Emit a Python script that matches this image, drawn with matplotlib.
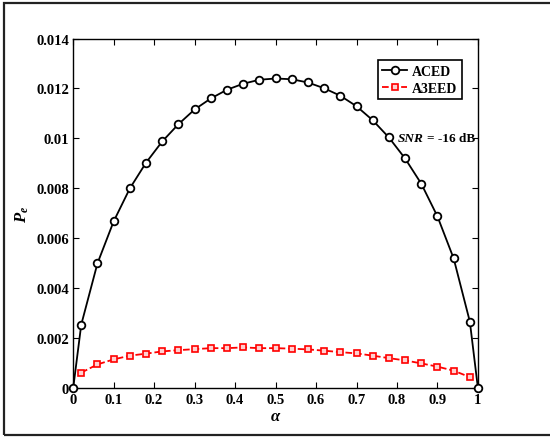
import matplotlib
matplotlib.use("Agg")
import matplotlib.pyplot as plt
from matplotlib.patches import Rectangle

# alpha grid
alpha_aced = [0.0, 0.02, 0.06, 0.10, 0.14, 0.18, 0.22, 0.26, 0.30, 0.34, 0.38,
              0.42, 0.46, 0.50, 0.54, 0.58, 0.62, 0.66, 0.70, 0.74, 0.78, 0.82,
              0.86, 0.90, 0.94, 0.98, 1.0]
pe_aced = [0.0, 0.00255, 0.0050, 0.00668, 0.0080, 0.00903, 0.00988, 0.01057,
           0.01116, 0.0116, 0.01195, 0.01219, 0.01235, 0.0124, 0.01237,
           0.01224, 0.01201, 0.01171, 0.01129, 0.01073, 0.01004, 0.0092,
           0.00819, 0.00688, 0.0052, 0.00267, 0.0]

alpha_a3eed = alpha_aced[1:-1]
pe_a3eed = [0.00063, 0.00096, 0.00116, 0.00131, 0.00139, 0.00148, 0.00153,
            0.00157, 0.00161, 0.00161, 0.00164, 0.00161, 0.00161, 0.00159,
            0.00156, 0.00151, 0.00145, 0.0014, 0.00131, 0.00121, 0.00112,
            0.0010, 0.00087, 0.00071, 0.00045]

xticks = [0, 0.1, 0.2, 0.3, 0.4, 0.5, 0.6, 0.7, 0.8, 0.9, 1]
xticklabels = ["0", "0.1", "0.2", "0.3", "0.4", "0.5", "0.6", "0.7", "0.8", "0.9", "1"]
yticks = [0, 0.002, 0.004, 0.006, 0.008, 0.01, 0.012, 0.014]
yticklabels = ["0", "0.002", "0.004", "0.006", "0.008", "0.01", "0.012", "0.014"]

plt.rcParams["font.family"] = ["Liberation Serif", "DejaVu Serif"]
plt.rcParams["font.weight"] = "bold"
plt.rcParams["mathtext.fontset"] = "custom"
plt.rcParams["mathtext.it"] = "Liberation Serif:italic:bold"
plt.rcParams["mathtext.rm"] = "Liberation Serif:bold"

fig = plt.figure(figsize=(5.5, 4.39), dpi=100)
ax = fig.add_axes([0.133, 0.113, 0.736, 0.797])

# outer figure frame
fig.patches.append(Rectangle((4 / 550, 3 / 439), 1.1, 1 - 7 / 439,
                             transform=fig.transFigure, fill=False,
                             edgecolor="#222", lw=1.6, clip_on=False))

ax.plot(alpha_aced, pe_aced, "-o", color="black", lw=1.3, ms=5.5,
        mfc="white", mec="black", mew=1.3, label="ACED", zorder=3,
        clip_on=False)
ax.plot(alpha_a3eed, pe_a3eed, "--s", color="red", lw=1.3, ms=4,
        mfc="#ffd0d0", mec="red", mew=1.2, label="A3EED", zorder=2)

ax.set_xlim(0, 1)
ax.set_ylim(0, 0.014)
ax.set_xticks(xticks)
ax.set_xticklabels(xticklabels)
ax.set_yticks(yticks)
ax.set_yticklabels(yticklabels)
ax.tick_params(direction="in", top=True, right=True, length=4, width=0.8,
               labelsize=10.5, pad=3)
for lab in ax.get_xticklabels() + ax.get_yticklabels():
    lab.set_fontweight("bold")
for sp in ax.spines.values():
    sp.set_linewidth(1.0)

ax.set_xlabel(r"$\alpha$", fontsize=12, labelpad=2)
ax.set_ylabel(r"$P_e$", fontsize=12, labelpad=4)

# SNR note: italic "SNR" followed by the upright remainder
note = ax.text(0.993, 0.0100, "= -16 dB", ha="right", va="center",
               fontsize=9.5, fontweight="bold")
ax.annotate("SNR", xy=(0, 0.5), xycoords=note, xytext=(-2, 0),
            textcoords="offset points", ha="right", va="center",
            fontsize=9.5, fontweight="bold", fontstyle="italic")

leg = ax.legend(loc="upper right", bbox_to_anchor=(0.96, 0.938),
                fontsize=10, fancybox=False, framealpha=1, edgecolor="black",
                handlelength=1.8, handletextpad=0.3, borderpad=0.35,
                labelspacing=0.25, borderaxespad=0)
leg.get_frame().set_linewidth(1.2)
for t in leg.get_texts():
    t.set_fontweight("bold")

fig.savefig("out.png", dpi=100)
